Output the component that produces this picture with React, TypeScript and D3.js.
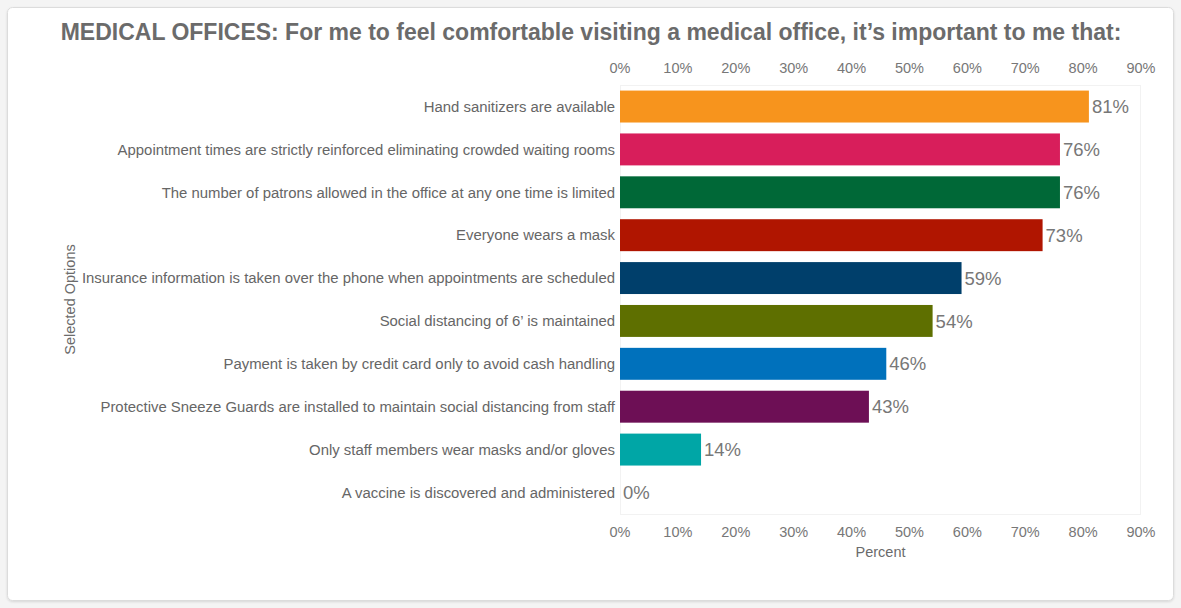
import React, { useRef, useEffect } from 'react';
import * as d3 from 'd3';

const categories = [
    "Hand sanitizers are available",
    "Appointment times are strictly reinforced eliminating crowded waiting rooms",
    "The number of patrons allowed in the office at any one time is limited",
    "Everyone wears a mask",
    "Insurance information is taken over the phone when appointments are scheduled",
    "Social distancing of 6\u2019 is maintained",
    "Payment is taken by credit card only to avoid cash handling",
    "Protective Sneeze Guards are installed to maintain social distancing from staff",
    "Only staff members wear masks and/or gloves",
    "A vaccine is discovered and administered",
];

const values = [81, 76, 76, 73, 59, 54, 46, 43, 14, 0];

const barColors = [
    "#f7941d", "#d81e5b", "#006837", "#b01500", "#003f6b",
    "#5e6f00", "#0071bc", "#6d0f55", "#00a6a6", "#999999",
];

const tickValues = [0, 10, 20, 30, 40, 50, 60, 70, 80, 90];

const TITLE = "MEDICAL OFFICES: For me to feel comfortable visiting a medical office, it\u2019s important to me that:";

const W = 1181;
const H = 608;

export default function App() {
    const svgRef = useRef<SVGSVGElement>(null);

    useEffect(() => {
        if (!svgRef.current) return;
        const svg = d3.select(svgRef.current);
        svg.selectAll("*").remove();

        const font = "'Liberation Sans', Arial, sans-serif";
        const left = 620, right = 1141, top = 85, bottom = 514;

        const x = d3.scaleLinear().domain([0, 90]).range([left, right]);
        const y = d3.scaleBand<string>()
            .domain(categories)
            .range([top, bottom])
            .paddingInner(0.255)
            .paddingOuter(0.13);

        const defs = svg.append("defs");
        const shadow = defs.append("filter").attr("id", "card-shadow")
            .attr("x", "-5%").attr("y", "-5%").attr("width", "110%").attr("height", "110%");
        shadow.append("feDropShadow")
            .attr("dx", 0).attr("dy", 1).attr("stdDeviation", 1.2)
            .attr("flood-color", "#000").attr("flood-opacity", 0.12);

        // card
        svg.append("rect")
            .attr("x", 7.5).attr("y", 7.5)
            .attr("width", 1166).attr("height", 593)
            .attr("rx", 5)
            .attr("fill", "#fff")
            .attr("stroke", "#dcdcdc")
            .attr("filter", "url(#card-shadow)");

        svg.append("text")
            .attr("x", 591).attr("y", 40)
            .attr("text-anchor", "middle")
            .attr("font-family", font)
            .attr("font-size", 23)
            .attr("font-weight", "bold")
            .attr("fill", "#6b6b6b")
            .text(TITLE);

        // plot frame
        svg.append("rect")
            .attr("x", left + 0.5).attr("y", top + 0.5)
            .attr("width", right - left - 1).attr("height", bottom - top)
            .attr("fill", "none")
            .attr("stroke", "#f2f2f2");

        const g = svg.append("g").attr("font-family", font);

        // tick labels top and bottom
        [68, 532].forEach(cy => {
            g.append("g")
                .selectAll("text")
                .data(tickValues)
                .join("text")
                .attr("x", d => x(d))
                .attr("y", cy)
                .attr("dy", "0.35em")
                .attr("text-anchor", "middle")
                .attr("font-size", 14.5)
                .attr("fill", "#777")
                .text(d => `${d}%`);
        });

        g.append("text")
            .attr("x", (left + right) / 2).attr("y", 552)
            .attr("dy", "0.35em")
            .attr("text-anchor", "middle")
            .attr("font-size", 14.5)
            .attr("fill", "#6b6b6b")
            .text("Percent");

        g.append("text")
            .attr("transform", `translate(70,${(top + bottom) / 2}) rotate(-90)`)
            .attr("dy", "0.35em")
            .attr("text-anchor", "middle")
            .attr("font-size", 14.5)
            .attr("fill", "#6b6b6b")
            .text("Selected Options");

        const rows = categories.map((c, i) => ({ c, v: values[i], color: barColors[i] }));

        g.selectAll("rect.bar")
            .data(rows)
            .join("rect")
            .attr("class", "bar")
            .attr("x", x(0))
            .attr("y", d => y(d.c)!)
            .attr("width", d => x(d.v) - x(0))
            .attr("height", y.bandwidth())
            .attr("fill", d => d.color);

        g.selectAll("text.cat")
            .data(rows)
            .join("text")
            .attr("class", "cat")
            .attr("x", left - 5)
            .attr("y", d => y(d.c)! + y.bandwidth() / 2)
            .attr("dy", "0.35em")
            .attr("text-anchor", "end")
            .attr("font-size", 14.9)
            .attr("fill", "#666")
            .text(d => d.c);

        g.selectAll("text.val")
            .data(rows)
            .join("text")
            .attr("class", "val")
            .attr("x", d => x(d.v) + 3)
            .attr("y", d => y(d.c)! + y.bandwidth() / 2)
            .attr("dy", "0.36em")
            .attr("font-size", 18.5)
            .attr("fill", "#777")
            .text(d => `${d.v}%`);
    }, []);

    return (
        <div style={{ position: "absolute", left: 0, top: 0, width: W, height: H, background: "#f4f4f4" }}>
            <svg ref={svgRef} width={W} height={H} viewBox={`0 0 ${W} ${H}`} />
        </div>
    );
}
